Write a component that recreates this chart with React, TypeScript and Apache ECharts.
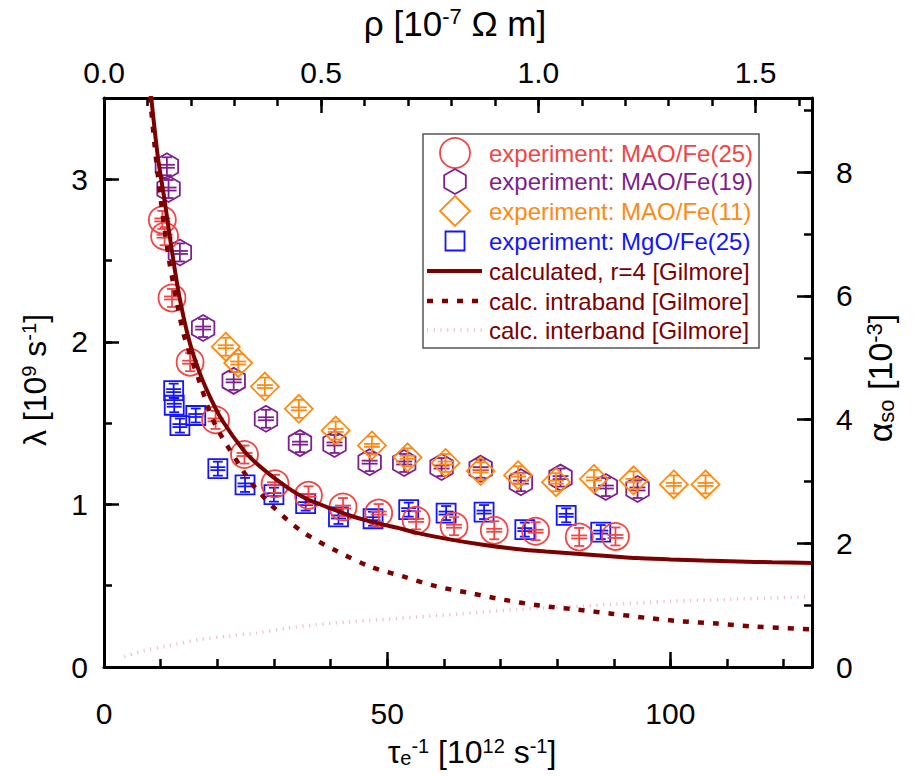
import React, { useEffect, useRef } from "react";
import * as echarts from "echarts";

// Axis ranges
const TAU_INV_MAX = 125; // τe^-1 [10^12 s^-1]
const RHO_MAX = 1.63; // ρ [10^-7 Ω m]
const LAMBDA_MAX = 3.5; // λ [10^9 s^-1]
const ALPHA_MAX = 9.2; // α_so [10^-3]

// Measured damping rates: [τe^-1, λ]
const maoFe25: [number, number][] = [
  [10.3, 2.75], [10.7, 2.65], [12.0, 2.27], [15.2, 1.875], [19.7, 1.52], [24.8, 1.307],
  [30.2, 1.127], [36.1, 1.056], [42.2, 0.984], [48.5, 0.947], [55.1, 0.902], [61.8, 0.866],
  [68.9, 0.841], [76.2, 0.835], [83.9, 0.8], [90.3, 0.803],
];
const maoFe19: [number, number][] = [
  [11.1, 3.08], [11.4, 2.94], [13.4, 2.55], [17.5, 2.085], [22.9, 1.76], [28.6, 1.527],
  [34.6, 1.377], [40.7, 1.372], [46.9, 1.26], [53.0, 1.255], [59.6, 1.23], [66.5, 1.22],
  [73.6, 1.137], [80.6, 1.165], [88.6, 1.107], [94.2, 1.095],
];
const maoFe11: [number, number][] = [
  [21.5, 1.97], [23.7, 1.87], [28.4, 1.725], [34.4, 1.588], [40.9, 1.455], [47.3, 1.363],
  [53.6, 1.29], [60.3, 1.255], [66.5, 1.205], [73.1, 1.18], [79.8, 1.137], [86.5, 1.157],
  [93.5, 1.148], [100.6, 1.123], [106.2, 1.123],
];
const mgoFe25: [number, number][] = [
  [12.3, 1.7], [12.4, 1.61], [13.4, 1.485], [16.2, 1.547], [20.1, 1.22], [24.9, 1.12],
  [30.0, 1.06], [35.6, 1.005], [41.4, 0.923], [47.5, 0.912], [53.8, 0.968], [60.4, 0.947],
  [67.1, 0.953], [74.3, 0.845], [81.6, 0.933], [87.7, 0.83],
];

// Calculated curves [Gilmore]: [τe^-1, λ]
const calcTotal: [number, number][] = [
  [8.2, 3.55], [9.5, 3.14], [10.7, 2.87], [11.9, 2.58], [13.3, 2.28], [15.1, 2.0], [17.0, 1.8],
  [19.0, 1.64], [21.0, 1.51], [24.5, 1.34], [27.0, 1.25], [29.8, 1.17], [33.0, 1.09],
  [35.7, 1.035], [37.5, 1.01], [40.0, 0.975], [43.4, 0.932], [46.0, 0.905], [49.3, 0.876],
  [52.5, 0.85], [55.2, 0.825], [61.0, 0.785], [66.9, 0.752], [72.8, 0.726], [78.0, 0.71],
  [84.0, 0.695], [90.0, 0.68], [94.0, 0.67], [100.0, 0.662], [105.8, 0.655], [112.0, 0.649],
  [118.0, 0.644], [125.0, 0.64],
];
const calcIntra: [number, number][] = [
  [7.9, 3.6], [8.9, 3.22], [10.0, 2.88], [11.5, 2.5], [13.0, 2.22], [14.2, 2.03], [16.9, 1.75],
  [19.5, 1.5], [24.5, 1.21], [26.3, 1.12], [30.4, 0.967], [35.1, 0.83], [41.0, 0.715],
  [46.9, 0.619], [52.8, 0.557], [58.7, 0.496], [64.6, 0.455], [70.5, 0.414], [76.9, 0.378],
  [83.5, 0.353], [89.6, 0.328], [95.8, 0.302], [102.0, 0.281], [108.2, 0.267], [114.3, 0.25],
  [125.0, 0.232],
];
const calcInter: [number, number][] = [
  [3.6, 0.063], [7.0, 0.1], [11.0, 0.128], [16.9, 0.169], [22.0, 0.19], [26.7, 0.208],
  [32.0, 0.237], [37.5, 0.261], [43.0, 0.277], [49.3, 0.292], [55.0, 0.307], [61.0, 0.322],
  [67.0, 0.338], [72.8, 0.353], [78.0, 0.363], [84.0, 0.374], [90.0, 0.386], [100.0, 0.404],
  [110.0, 0.416], [118.0, 0.425], [124.5, 0.431],
];

const legendLabels = [
  "experiment: MAO/Fe(25)",
  "experiment: MAO/Fe(19)",
  "experiment: MAO/Fe(11)",
  "experiment: MgO/Fe(25)",
  "calculated, r=4 [Gilmore]",
  "calc. intraband [Gilmore]",
  "calc. interband [Gilmore]",
];

const RED = "#f24545";
const PURPLE = "#7e1f90";
const ORANGE = "#ff8a12";
const BLUE = "#1414ff";
const MAROON = "#7d0000";
const PINK = "#efc0c6";
const FONT = "Liberation Sans";

type Kind = "circle" | "hexagon" | "diamond" | "square";

function outlineShape(kind: Kind, cx: number, cy: number, size: number, color: string) {
  const style = { fill: "none", stroke: color, lineWidth: 1.8 };
  if (kind === "circle") {
    return { type: "circle", shape: { cx, cy, r: size }, style };
  }
  if (kind === "square") {
    return { type: "rect", shape: { x: cx - size, y: cy - size, width: size * 2, height: size * 2 }, style };
  }
  if (kind === "diamond") {
    return {
      type: "polygon",
      shape: { points: [[cx, cy - size], [cx + size, cy], [cx, cy + size], [cx - size, cy]] },
      style,
    };
  }
  const pts: number[][] = [];
  for (let k = 0; k < 6; k++) {
    const a = (-90 + 60 * k) * (Math.PI / 180);
    pts.push([cx + size * Math.cos(a), cy + size * Math.sin(a)]);
  }
  return { type: "polygon", shape: { points: pts }, style };
}

const markerSize: Record<Kind, number> = { circle: 13.5, hexagon: 13, diamond: 14, square: 9.5 };

function markerRenderer(kind: Kind, color: string) {
  return (_params: any, api: any) => {
    const p = api.coord([api.value(0), api.value(1)]);
    const cx = p[0];
    const cy = p[1];
    const size = markerSize[kind];
    const h = kind === "square" ? 7 : 9; // error bar half-height
    const cap = 5;
    const w = kind === "square" ? 7.5 : 8;
    const bar = { stroke: color, lineWidth: 1.8 };
    return {
      type: "group",
      children: [
        outlineShape(kind, cx, cy, size, color),
        { type: "line", shape: { x1: cx, y1: cy - h, x2: cx, y2: cy + h }, style: bar },
        { type: "line", shape: { x1: cx - cap, y1: cy - h, x2: cx + cap, y2: cy - h }, style: bar },
        { type: "line", shape: { x1: cx - cap, y1: cy + h, x2: cx + cap, y2: cy + h }, style: bar },
        { type: "line", shape: { x1: cx - w, y1: cy - 1.5, x2: cx + w, y2: cy - 1.5 }, style: bar },
        { type: "line", shape: { x1: cx - w, y1: cy + 1.5, x2: cx + w, y2: cy + 1.5 }, style: bar },
      ],
    };
  };
}

const labelFont = { fontFamily: FONT, fontSize: 30, lineHeight: 30, color: "#000" };
const lineAxis = { show: true, onZero: false, lineStyle: { color: "#000", width: 3 } };
const majorTick = { show: true, inside: true, length: 15, lineStyle: { color: "#000", width: 2.5 } };
const minorTick = { show: true, inside: true, length: 8, lineStyle: { color: "#000", width: 2.5 } };

function majorAxis(position: string, max: number, interval: number, margin: number, fmt?: (v: number) => string) {
  return {
    type: "value",
    position,
    min: 0,
    max,
    interval,
    axisLine: lineAxis,
    axisTick: majorTick,
    splitLine: { show: false },
    axisLabel: { ...labelFont, margin, showMaxLabel: false, formatter: fmt },
  };
}
function minorAxis(position: string, max: number, interval: number) {
  return {
    type: "value",
    position,
    min: 0,
    max,
    interval,
    axisLine: { show: false, onZero: false },
    axisTick: minorTick,
    splitLine: { show: false },
    axisLabel: { show: false },
  };
}

function richTitle(x: number, y: number, text: string, size: number, rotation = 0) {
  const small = Math.round(size * 0.64);
  return {
    type: "text",
    x,
    y,
    rotation,
    style: {
      text,
      align: "center",
      verticalAlign: "middle",
      textAlign: "center",
      textVerticalAlign: "middle",
      rich: {
        n: { fontFamily: FONT, fontSize: size, lineHeight: size, fill: "#000", color: "#000", verticalAlign: "middle" },
        s: { fontFamily: FONT, fontSize: small, fill: "#000", color: "#000", verticalAlign: "top" },
        b: { fontFamily: FONT, fontSize: small, fill: "#000", color: "#000", verticalAlign: "bottom" },
      },
    },
  };
}

function legendGraphic() {
  const rows = [153, 181.5, 211, 241, 271, 301, 330];
  const ix = 455;
  const tx = 489;
  const textColors = [RED, PURPLE, ORANGE, BLUE, MAROON, MAROON, MAROON];
  const children: any[] = [
    { type: "rect", shape: { x: 423, y: 134, width: 336, height: 214 }, style: { fill: "#fff", stroke: "#555", lineWidth: 1.5 } },
    outlineShape("circle", ix, rows[0], 15, RED),
    outlineShape("hexagon", ix, rows[1], 12.5, PURPLE),
    outlineShape("diamond", ix, rows[2], 15, ORANGE),
    outlineShape("square", ix, rows[3], 9.5, BLUE),
    { type: "line", shape: { x1: 427, y1: rows[4], x2: 482, y2: rows[4] }, style: { stroke: MAROON, lineWidth: 4 } },
    { type: "line", shape: { x1: 427, y1: rows[5], x2: 482, y2: rows[5] }, style: { stroke: MAROON, lineWidth: 4.5, lineDash: [6, 9] } },
    { type: "line", shape: { x1: 427, y1: rows[6], x2: 482, y2: rows[6] }, style: { stroke: PINK, lineWidth: 3.5, lineDash: [1.2, 5.5] } },
  ];
  legendLabels.forEach((label, i) => {
    children.push({
      type: "text",
      x: tx,
      y: rows[i],
      style: {
        text: label,
        fill: textColors[i],
        fontFamily: FONT,
        fontSize: 24,
        align: "left",
        verticalAlign: "middle",
        textAlign: "left",
        textVerticalAlign: "middle",
      },
    });
  });
  return { type: "group", children };
}

export default function App() {
  const ref = useRef<HTMLDivElement>(null);

  useEffect(() => {
    if (!ref.current) return;
    const chart = echarts.init(ref.current, undefined, { renderer: "svg" });
    const markerSeries = (name: string, data: [number, number][], kind: Kind, color: string) => ({
      name,
      type: "custom",
      xAxisIndex: 0,
      yAxisIndex: 0,
      data,
      encode: { x: 0, y: 1 },
      renderItem: markerRenderer(kind, color),
      z: 2,
    });
    const curve = (name: string, data: [number, number][], lineStyle: any, z: number) => ({
      name,
      type: "line",
      xAxisIndex: 0,
      yAxisIndex: 0,
      data,
      symbol: "none",
      showSymbol: false,
      smooth: 0.3,
      clip: true,
      lineStyle,
      z,
    });

    chart.setOption({
      animation: false,
      backgroundColor: "#fff",
      grid: { left: 104, right: 102, top: 98, bottom: 109, containLabel: false, outerBoundsMode: "none" },
      xAxis: [
        majorAxis("bottom", TAU_INV_MAX, 50, 31),
        minorAxis("bottom", TAU_INV_MAX, 10),
        majorAxis("top", RHO_MAX, 0.5, 11, (v: number) => v.toFixed(1)),
        minorAxis("top", RHO_MAX, 0.1),
      ],
      yAxis: [
        majorAxis("left", LAMBDA_MAX, 1, 16),
        minorAxis("left", LAMBDA_MAX, 0.5),
        majorAxis("right", ALPHA_MAX, 2, 24),
        minorAxis("right", ALPHA_MAX, 1),
      ],
      series: [
        markerSeries(legendLabels[3], mgoFe25, "square", BLUE),
        markerSeries(legendLabels[1], maoFe19, "hexagon", PURPLE),
        markerSeries(legendLabels[2], maoFe11, "diamond", ORANGE),
        markerSeries(legendLabels[0], maoFe25, "circle", RED),
        curve(legendLabels[6], calcInter, { color: PINK, width: 3.5, type: [1.2, 5.5] }, 3),
        curve(legendLabels[5], calcIntra, { color: MAROON, width: 4.5, type: [6, 9] }, 4),
        curve(legendLabels[4], calcTotal, { color: MAROON, width: 4 }, 5),
      ],
      graphic: [
        richTitle(455, 23, "{n|ρ [10}{s|-7}{n| Ω m]}", 35),
        richTitle(472, 752, "{n|τ}{b|e}{s|-1}{n| [10}{s|12}{n| s}{s|-1}{n|]}", 32),
        richTitle(35, 380, "{n|λ [10}{s|9}{n| s}{s|-1}{n|]}", 32, Math.PI / 2),
        richTitle(880, 378, "{n|α}{b|so}{n| [10}{s|-3}{n|]}", 34, Math.PI / 2),
        legendGraphic(),
      ],
    });
    return () => chart.dispose();
  }, []);

  return <div ref={ref} style={{ position: "fixed", left: 0, top: 0, width: 914, height: 776 }} />;
}
